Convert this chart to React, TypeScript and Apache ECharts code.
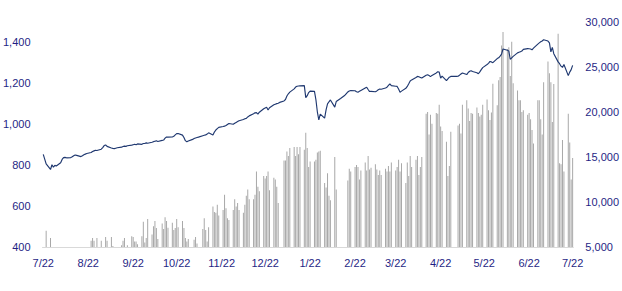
import React, { useEffect, useRef } from "react";
import * as echarts from "echarts";

// Trading-day values (weekdays, 2020-07-22 .. 2021-07-22)
const indexClose: number[] = [
  853, 830, 806, 779, 802, 790, 799, 796, 812, 828,
  837, 838, 836, 837, 841, 846, 850, 848, 842, 846,
  851, 854, 857, 862, 867, 870, 873, 872, 878, 886,
  896, 899, 892, 884, 882, 881, 883, 885, 888, 891,
  893, 892, 895, 898, 900, 902, 900, 904, 902, 906,
  906, 909, 907, 912, 915, 917, 919, 916, 921, 923,
  932, 938, 937, 938, 941, 948, 954, 955, 947, 935,
  920, 914, 918, 926, 930, 933, 935, 937, 944, 946,
  948, 952, 958, 947, 962, 972, 979, 985, 989, 991,
  994, 999, 1004, 1000, 1005, 1009, 1013, 1017, 1023, 1027,
  1029, 1036, 1041, 1051, 1056, 1057, 1050, 1059, 1076, 1080,
  1083, 1070, 1081, 1095, 1098, 1101, 1103, 1107, 1114, 1121,
  1138, 1149, 1157, 1173, 1182, 1186, 1187, 1188, 1189, 1130,
  1140, 1155, 1162, 1161, 1120, 1060, 1021, 1050, 1030, 1070,
  1100, 1110, 1119, 1084, 1111, 1116, 1121, 1126, 1142, 1150,
  1158, 1163, 1165, 1164, 1159, 1157, 1161, 1165, 1177, 1181,
  1170, 1160, 1161, 1159, 1163, 1169, 1172, 1171, 1177, 1181,
  1190, 1197, 1189, 1186, 1185, 1172, 1157, 1162, 1176, 1185,
  1198, 1212, 1217, 1229, 1234, 1232, 1229, 1226, 1240, 1242,
  1238, 1233, 1239, 1251, 1257, 1255, 1226, 1235, 1213, 1222,
  1230, 1234, 1235, 1234, 1235, 1240, 1246, 1251, 1243, 1253,
  1259, 1262, 1258, 1252, 1247, 1256, 1267, 1277, 1292, 1298,
  1307, 1305, 1301, 1321, 1325, 1333, 1343, 1368, 1362, 1358,
  1318, 1325, 1332, 1349, 1352, 1355, 1358, 1366, 1370, 1369,
  1368, 1364, 1372, 1392, 1398, 1403, 1407, 1413, 1407, 1398,
  1354, 1376, 1345, 1305, 1296, 1284, 1278, 1292, 1238, 1255,
  1267, 1288,
];

const volume: number[] = [
  3500, 3000, 6800, 6000, 3200, 2900, 3300, 2700, 3100, 3400,
  3000, 2600, 3800, 3200, 2900, 3300, 3600, 2800, 3500, 3900,
  4200, 3800, 4400, 5700, 6000, 5700, 4600, 6000, 5700, 4700,
  4500, 6100, 5700, 6100, 5100, 4300, 3900, 4200, 5200, 5700,
  6000, 4800, 5200, 6200, 6100, 5600, 5600, 5300, 6200, 7800,
  5500, 6000, 8100, 6400, 7300, 7900, 7100, 5900, 7600, 7000,
  8300, 7900, 7150, 7700, 6900, 7100, 8100, 7200, 7900, 7100,
  6000, 5600, 5900, 4500, 5800, 6100, 5400, 4600, 7000, 8200,
  6900, 5600, 7200, 9500, 8900, 8800, 9700, 8500, 9100, 10800,
  9300, 8200, 8000, 9100, 10300, 9500, 9900, 9100, 8800, 9700,
  10700, 11400, 10300, 10300, 10800, 13400, 11700, 11200, 12900, 12600,
  12900, 13400, 11300, 12700, 12500, 11700, 9900, 4500, 14600, 14600,
  15600, 15100, 16000, 16100, 15100, 16100, 15300, 16100, 15800, 17700,
  16000, 13900, 14500, 14500, 14700, 15500, 15600, 15700, 12100, 11600,
  13200, 10700, 10200, 15000, 11400, 4200, 3900, 4500, 3700, 4100,
  12400, 13700, 13400, 13900, 14100, 13900, 12500, 13500, 14400, 13500,
  15100, 13600, 13800, 14200, 13600, 13000, 13500, 13000, 13700, 13400,
  14000, 13400, 14400, 13500, 13900, 14700, 13400, 14300, 12100, 14400,
  12900, 15100, 13900, 14700, 15100, 13000, 13900, 15000, 19800, 20000,
  17500, 19700, 18700, 19900, 19800, 20800, 18400, 17900, 16700, 12900,
  14000, 17800, 4500, 4500, 18500, 18700, 17600, 20800, 21300, 20400,
  19000, 19900, 19800, 20500, 19900, 19500, 19700, 20800, 21400, 20200,
  19100, 19950, 23150, 20760, 23540, 23900, 27400, 28900, 27000, 27200,
  24000, 27800, 23200, 22400, 21300, 21300, 20000, 20200, 19700, 19900,
  19200, 18000, 16500, 21300, 21300, 19200, 17500, 23300, 25600, 24300,
  23300, 18900, 23100, 28700, 14300, 14200, 16900, 13400, 19800, 16600,
  12500, 14900,
];

const leftAxis = { min: 400, max: 1500, interval: 200 };
const rightAxis = { min: 5000, max: 30000, interval: 5000 };
const tickDay = 22;

function buildCalendar() {
  const dates: string[] = [];
  const close: (number | null)[] = [];
  const vol: (number | null)[] = [];
  let t = 0;
  const start = Date.UTC(2020, 6, 22);
  const end = Date.UTC(2021, 6, 22);
  for (let ms = start; ms <= end; ms += 86400000) {
    const d = new Date(ms);
    dates.push(d.toISOString().slice(0, 10));
    const wd = d.getUTCDay();
    if (wd !== 0 && wd !== 6 && t < indexClose.length) {
      close.push(indexClose[t]);
      vol.push(volume[t]);
      t++;
    } else {
      close.push(null);
      vol.push(null);
    }
  }
  return { dates, close, vol };
}

const TEXT = "#1f1f85";
const FONT = "Liberation Sans";

export default function App() {
  const ref = useRef<HTMLDivElement>(null);
  useEffect(() => {
    if (!ref.current) return;
    const chart = echarts.init(ref.current, undefined, { renderer: "svg" });
    const { dates, close, vol } = buildCalendar();
    const isTick = (_i: number, v: string) => Number(v.slice(8, 10)) === tickDay;
    chart.setOption({
      animation: false,
      grid: { left: 42, right: 47, top: 22, bottom: 44 },
      xAxis: {
        type: "category",
        data: dates,
        boundaryGap: true,
        axisLine: { lineStyle: { color: "#d9d9d9", width: 1 } },
        axisTick: {
          alignWithLabel: true,
          interval: isTick,
          length: 4,
          lineStyle: { color: "#d9d9d9" },
        },
        axisLabel: {
          interval: isTick,
          margin: 10,
          color: TEXT,
          fontFamily: FONT,
          fontSize: 11,
          formatter: (v: string) => `${Number(v.slice(5, 7))}/${Number(v.slice(8, 10))}`,
        },
        splitLine: { show: false },
      },
      yAxis: [
        {
          type: "value",
          min: leftAxis.min,
          max: leftAxis.max,
          interval: leftAxis.interval,
          axisLine: { show: false },
          axisTick: { show: false },
          splitLine: { show: false },
          axisLabel: {
            showMaxLabel: false,
            margin: 12,
            color: TEXT,
            fontFamily: FONT,
            fontSize: 11,
            formatter: (v: number) => v.toLocaleString("en-US"),
          },
        },
        {
          type: "value",
          position: "right",
          min: rightAxis.min,
          max: rightAxis.max,
          interval: rightAxis.interval,
          axisLine: { show: false },
          axisTick: { show: false },
          splitLine: { show: false },
          axisLabel: {
            margin: 12,
            color: TEXT,
            fontFamily: FONT,
            fontSize: 11,
            formatter: (v: number) => v.toLocaleString("en-US"),
          },
        },
      ],
      series: [
        {
          type: "bar",
          yAxisIndex: 1,
          data: vol,
          barWidth: 1,
          itemStyle: { color: "#a8a8a8" },
          clip: true,
        },
        {
          type: "line",
          yAxisIndex: 0,
          data: close,
          connectNulls: true,
          symbol: "none",
          showSymbol: false,
          lineStyle: { color: "#1f3870", width: 1.15 },
          z: 5,
        },
      ],
    });
    return () => chart.dispose();
  }, []);
  return (
    <div
      ref={ref}
      style={{ position: "fixed", left: 0, top: 0, width: 622, height: 291, background: "#fff" }}
    />
  );
}
